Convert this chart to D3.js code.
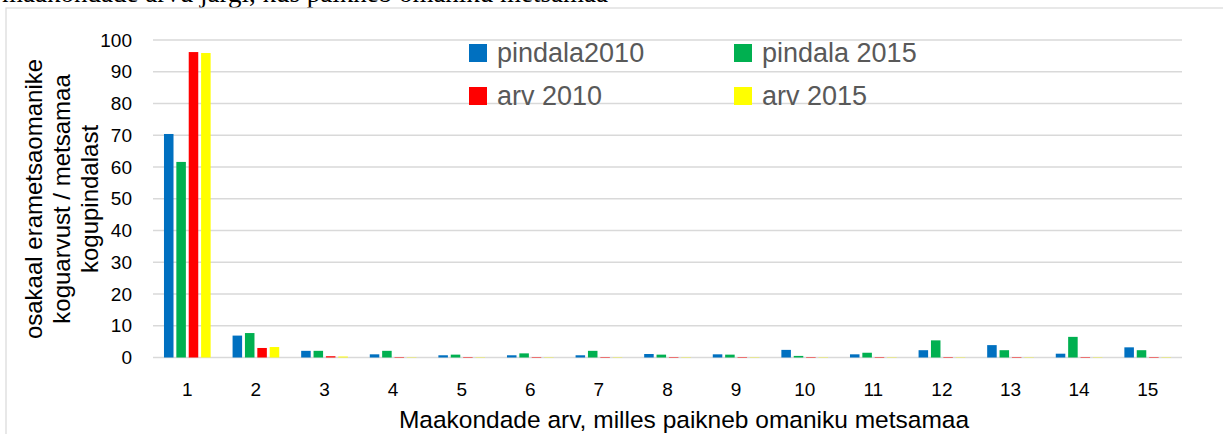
<!DOCTYPE html>
<html>
<head>
<meta charset="utf-8">
<script src="https://cdn.jsdelivr.net/npm/d3@7"></script>
<style>
  html, body { margin: 0; padding: 0; background: #fff; }
  svg { display: block; font-family: "Liberation Sans", Arial, sans-serif; }
</style>
</head>
<body>
<div id="chart"></div>
<script>
// categories: number of counties where owner's forest land lies
const categories = ['1','2','3','4','5','6','7','8','9','10','11','12','13','14','15'];

// series values (% of owners / % of area)
const pindala2010 = [70.4, 6.9, 2.1, 1.0, 0.7, 0.7, 0.7, 1.1, 1.0, 2.4, 1.0, 2.3, 3.9, 1.2, 3.2];
const pindala2015 = [61.6, 7.7, 2.1, 2.1, 0.9, 1.3, 2.1, 0.9, 0.9, 0.5, 1.5, 5.4, 2.3, 6.5, 2.3];
const arv2010     = [96.2, 3.0, 0.4, 0.15, 0.15, 0.15, 0.15, 0.15, 0.15, 0.15, 0.15, 0.15, 0.15, 0.15, 0.15];
const arv2015     = [95.9, 3.3, 0.3, 0.1, 0.1, 0.1, 0.1, 0.1, 0.1, 0.1, 0.1, 0.1, 0.1, 0.1, 0.1];

const seriesNames = ['pindala2010', 'pindala 2015', 'arv 2010', 'arv 2015'];
const seriesValues = [pindala2010, pindala2015, arv2010, arv2015];
const seriesColors = ['#0070C0', '#00B050', '#FF0000', '#FFFF00'];

const yTicks = [0, 10, 20, 30, 40, 50, 60, 70, 80, 90, 100];

const W = 1223, H = 434;
const plot = { left: 153, right: 1182, top: 40, bottom: 357.5 };

const svg = d3.select('#chart').append('svg')
  .attr('width', W).attr('height', H);

// line of document text above the chart, cut off by the page top
svg.append('text')
  .attr('x', 2).attr('y', 2)
  .style('font-family', '"Liberation Serif", "Times New Roman", serif')
  .style('font-size', '27px')
  .attr('fill', '#000')
  .text('maakondade arvu järgi, kus paikneb omaniku metsamaa');

// chart frame
svg.append('rect')
  .attr('x', 6).attr('y', 8)
  .attr('width', W + 20).attr('height', H + 20)
  .attr('fill', '#fff')
  .attr('stroke', '#d9d9d9').attr('stroke-width', 1.2);

const x0 = d3.scaleBand()
  .domain(categories)
  .range([plot.left, plot.right])
  .paddingInner(0.32)
  .paddingOuter(0.16);

const x1 = d3.scaleBand()
  .domain(d3.range(seriesNames.length))
  .range([0, x0.bandwidth()])
  .paddingInner(0.23);

const y = d3.scaleLinear()
  .domain([0, 100])
  .range([plot.bottom, plot.top]);

// gridlines
svg.append('g')
  .selectAll('line')
  .data(yTicks)
  .join('line')
  .attr('x1', plot.left).attr('x2', plot.right)
  .attr('y1', d => y(d)).attr('y2', d => y(d))
  .attr('stroke', '#d9d9d9').attr('stroke-width', 1.6);

// y axis labels
const yAxis = svg.append('g')
  .attr('transform', `translate(${plot.left},0)`)
  .call(d3.axisLeft(y).tickValues(yTicks).tickSize(0).tickPadding(21));
yAxis.select('.domain').remove();
yAxis.selectAll('text')
  .style('font-size', '19px')
  .style('font-family', '"Liberation Sans", Arial, sans-serif')
  .attr('fill', '#000');

// bars
const groups = svg.append('g')
  .selectAll('g')
  .data(categories)
  .join('g')
  .attr('transform', d => `translate(${x0(d)},0)`);

groups.selectAll('rect')
  .data((c, ci) => seriesValues.map((vals, si) => ({ si, v: vals[ci] })))
  .join('rect')
  .attr('x', d => x1(d.si))
  .attr('width', x1.bandwidth())
  .attr('y', d => y(d.v))
  .attr('height', d => y(0) - y(d.v))
  .attr('fill', d => seriesColors[d.si]);

// x axis labels
const xAxis = svg.append('g')
  .attr('transform', `translate(0,${plot.bottom})`)
  .call(d3.axisBottom(x0).tickSize(0).tickPadding(25));
xAxis.select('.domain').remove();
xAxis.selectAll('text')
  .style('font-size', '19px')
  .style('font-family', '"Liberation Sans", Arial, sans-serif')
  .attr('fill', '#000');

// x axis title
svg.append('text')
  .attr('x', 684).attr('y', 428)
  .attr('text-anchor', 'middle')
  .style('font-size', '24.5px')
  .attr('fill', '#000')
  .text('Maakondade arv, milles paikneb omaniku metsamaa');

// y axis title (three lines)
const yTitle = ['osakaal erametsaomanike', 'koguarvust / metsamaa', 'kogupindalast'];
svg.append('g')
  .selectAll('text')
  .data(yTitle)
  .join('text')
  .attr('transform', (d, i) => `translate(${42 + i * 28},199) rotate(-90)`)
  .attr('text-anchor', 'middle')
  .style('font-size', '24px')
  .attr('fill', '#000')
  .text(d => d);

// legend
const legendPos = [[469, 44], [734, 44], [469, 87], [734, 87]];
const legend = svg.append('g')
  .selectAll('g')
  .data(seriesNames)
  .join('g')
  .attr('transform', (d, i) => `translate(${legendPos[i][0]},${legendPos[i][1]})`);
legend.append('rect')
  .attr('width', 18).attr('height', 18)
  .attr('fill', (d, i) => seriesColors[i]);
legend.append('text')
  .attr('x', 28).attr('y', 18)
  .style('font-size', '27px')
  .attr('fill', '#595959')
  .text(d => d);
</script>
</body>
</html>
